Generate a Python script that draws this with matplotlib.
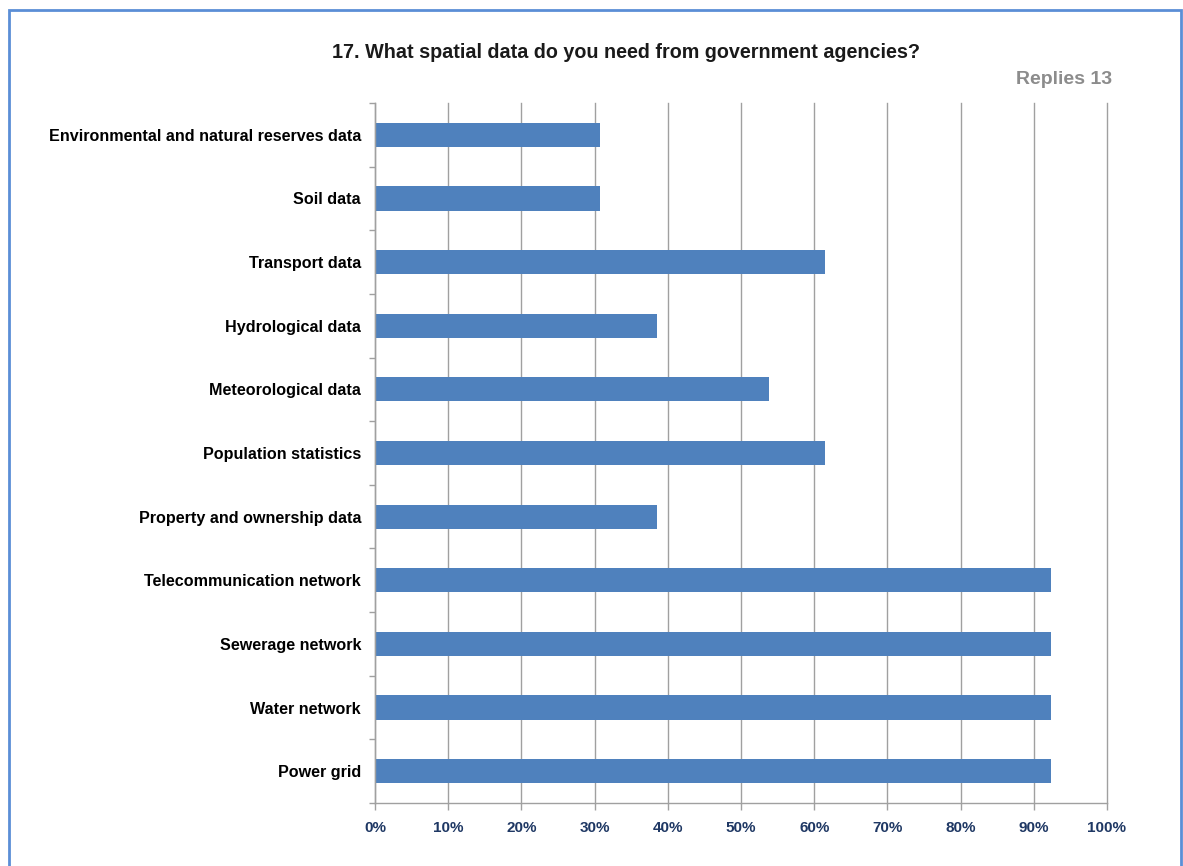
import matplotlib
matplotlib.use("Agg")
import matplotlib.pyplot as plt
from matplotlib.patches import Rectangle
from matplotlib.ticker import FixedLocator, PercentFormatter

categories = [
    "Environmental and natural reserves data",
    "Soil data",
    "Transport data",
    "Hydrological data",
    "Meteorological data",
    "Population statistics",
    "Property and ownership data",
    "Telecommunication network",
    "Sewerage network",
    "Water network",
    "Power grid",
]
values = [30.8, 30.8, 61.5, 38.5, 53.8, 61.5, 38.5, 92.3, 92.3, 92.3, 92.3]
xticks = [0, 10, 20, 30, 40, 50, 60, 70, 80, 90, 100]
title = "17. What spatial data do you need from government agencies?"
subtitle = "Replies 13"

plt.rcParams['font.family'] = ['Liberation Sans', 'DejaVu Sans']

W, H = 1183, 866
fig = plt.figure(figsize=(W / 100, H / 100), dpi=100)
fig.patch.set_facecolor("white")

ax = fig.add_axes([375 / W, 1 - 803 / H, (1107 - 375) / W, (803 - 103) / H])

n = len(categories)
pos = list(range(n))
ax.barh(pos, values, height=0.38, color="#4F81BD", zorder=3)
ax.set_ylim(n - 0.5, -0.5)
ax.set_xlim(0, 100)

ax.set_yticks(pos)
ax.set_yticklabels(categories, fontsize=11.6, fontweight="bold", color="black")
ax.tick_params(axis="y", which="major", length=0, pad=10)
ax.yaxis.set_minor_locator(FixedLocator([i - 0.5 for i in range(n + 1)]))
ax.tick_params(axis="y", which="minor", length=4, color="#A0A0A0", width=1)

ax.set_xticks(xticks)
ax.xaxis.set_major_formatter(PercentFormatter(decimals=0))
ax.tick_params(axis="x", which="major", length=5, color="#A0A0A0", width=1,
               labelsize=11, labelcolor="#1F3864", pad=8)
for lab in ax.get_xticklabels():
    lab.set_fontweight("bold")

ax.grid(axis="x", color="#A0A0A0", linewidth=1, zorder=0)
for gl in ax.get_xgridlines():
    gl.set_clip_on(False)
ax.set_axisbelow(True)
for s in ["top", "right"]:
    ax.spines[s].set_visible(False)
for s in ["left", "bottom"]:
    ax.spines[s].set_color("#A0A0A0")
    ax.spines[s].set_linewidth(1)
    ax.spines[s].set_zorder(4)

fig.text(626 / W, 1 - 53 / H, title, ha="center", va="center",
         fontsize=14.2, fontweight="bold", color="#1A1A1A")
fig.text(1112 / W, 1 - 80 / H, subtitle, ha="right", va="center",
         fontsize=14, fontweight="bold", color="#8C8C8C")

fig.patches.append(Rectangle((9 / W, -0.05), (1181 - 9) / W, 1.05 - 10 / H,
                             transform=fig.transFigure, fill=False,
                             edgecolor="#5B8ED6", linewidth=2))

fig.savefig("out.png", dpi=100, facecolor="white")
